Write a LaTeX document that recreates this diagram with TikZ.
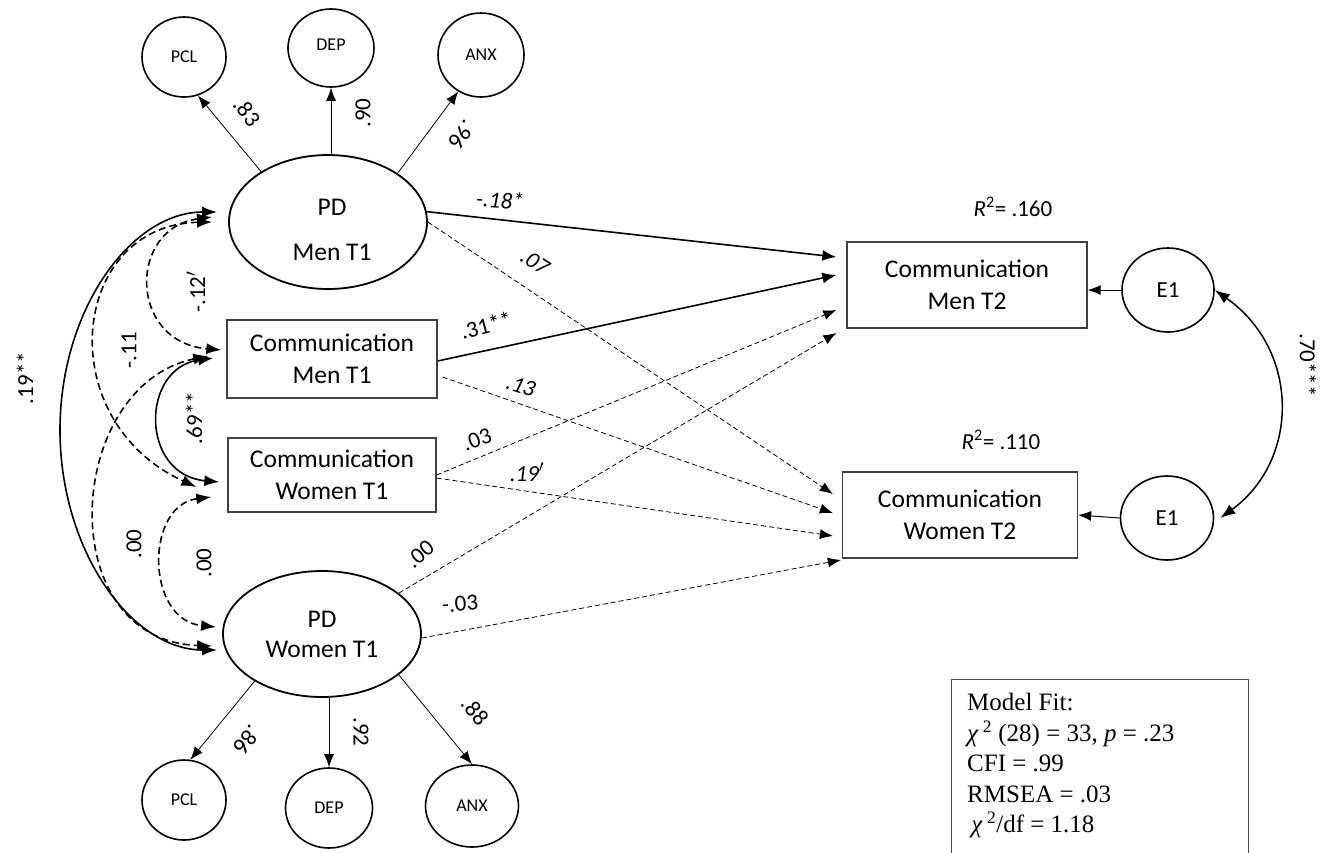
\documentclass[tikz,border=0pt]{standalone}
\usepackage{fontspec}
\setmainfont{Carlito}
\newfontfamily\timesfont{Liberation Serif}
\usetikzlibrary{arrows.meta,shapes.geometric}
\tikzset{
 latbig/.style={draw, ellipse, line width=1.8pt, inner sep=0pt, font=\fontsize{25.5}{30}\selectfont, align=center},
 ind/.style={draw, ellipse, line width=1.6pt, inner sep=0pt, font=\fontsize{18}{21}\selectfont},
 obs/.style={draw=black!75, rectangle, line width=1.3pt, inner sep=0pt, font=\fontsize{25.5}{32}\selectfont, align=center},
 lab/.style={font=\fontsize{23}{27}\selectfont, inner sep=1pt},
 ilab/.style={lab, font=\fontsize{23}{27}\selectfont\itshape},
 cov/.style={{Latex[length=15pt,width=11pt]}-{Latex[length=15pt,width=11pt]}, line width=1.6pt},
 covd/.style={cov, dash pattern=on 7pt off 4pt},
 pathsolid/.style={line width=1.6pt, -{Latex[length=14pt,width=11pt]}},
 pathdash/.style={line width=0.8pt, dash pattern=on 5pt off 3pt, -{Latex[length=13pt,width=10pt]}},
 load/.style={line width=0.8pt, -{Latex[length=13pt,width=10pt]}},
}
\begin{document}
\begin{tikzpicture}[x=1pt,y=-1pt]
\fill[white] (0,0) rectangle (1329,852);
\useasboundingbox (0,0) rectangle (1329,852);

% nodes
\node[ind, minimum width=84pt, minimum height=80pt] (pclt) at (184,57) {PCL};
\node[ind, minimum width=86pt, minimum height=78pt] (dept) at (331,48) {\raisebox{6pt}{DEP}};
\node[ind, minimum width=86pt, minimum height=84pt] (anxt) at (481,55) {ANX};
\node[latbig, minimum width=198pt, minimum height=134pt] (pdm) at (328,222) {};
\node[font=\fontsize{25.5}{30}\selectfont, align=center, inner sep=0pt] (pdmt) at (332,230) {PD\\[15pt]Men T1};
\node[obs, minimum width=210pt, minimum height=78pt] (cmt1) at (332,359) {Communication\\Men T1};
\node[obs, minimum width=208pt, minimum height=74pt] (cwt1) at (332,475) {Communication\\Women T1};
\node[latbig, minimum width=198pt, minimum height=126pt] (pdw) at (322,634) {PD\\Women T1};
\node[ind, minimum width=84pt, minimum height=80pt] (pclb) at (184,800) {PCL};
\node[ind, minimum width=87pt, minimum height=80pt] (depb) at (329,808) {DEP};
\node[ind, minimum width=93pt, minimum height=82pt] (anxb) at (472,806) {ANX};
\node[obs, minimum width=240pt, minimum height=86pt] (cm2) at (967,285) {Communication\\Men T2};
\node[obs, minimum width=235pt, minimum height=86pt] (cw2) at (960,515) {Communication\\Women T2};
\node[ind, font=\fontsize{23}{27}\selectfont, minimum width=92pt, minimum height=84pt] (e1a) at (1168,290) {E1};
\node[ind, font=\fontsize{23}{27}\selectfont, minimum width=93pt, minimum height=84pt] (e1b) at (1167,518) {E1};

\node[lab] (r2a) at (1013,207) {\textit{R}\textsuperscript{2}= .160};
\node[lab] (r2b) at (1001,440) {\textit{R}\textsuperscript{2}= .110};

% loadings
\draw[load] (pdm.143) -- (pclt.-70);
\draw[load] (dept.south |- pdm.north) -- (dept.south);
\draw[load] (pdm.35) -- (anxt.-122);
\draw[load] (pdw.-145) -- (pclb.81);
\draw[load] (depb.north |- pdw.south) -- (depb.north);
\draw[load] (pdw.-28) -- (anxb.north);
\node[lab, rotate=-52] (l83) at (247,112) {.83};
\node[lab, rotate=90] (l90) at (363,113) {.90};
\node[lab, rotate=-128] (l96) at (462,135) {.96};
\node[lab, rotate=-129] (l86) at (247,740) {.86};
\node[lab, rotate=-90] (l92) at (361,732) {.92};
\node[lab, rotate=-50] (l88) at (475,711) {.88};

% structural paths
\draw[pathsolid] (pdm.6) -- ([xshift=-10pt,yshift=28pt]cm2.west);
\draw[pathsolid] ([yshift=-2pt]cmt1.east) -- ([xshift=-10pt,yshift=10pt]cm2.west);
\draw[pathdash] (pdm.east) -- ([xshift=-9pt,yshift=21pt]cw2.west);
\draw[pathdash] ([xshift=5pt,yshift=-18pt]cmt1.east) -- ([xshift=-9pt,yshift=2pt]cw2.west);
\draw[pathdash] (cwt1.east) -- ([xshift=-10pt,yshift=-25pt]cm2.west);
\draw[pathdash] ([yshift=-3pt]cwt1.east) -- ([xshift=-9pt,yshift=-21pt]cw2.west);
\draw[pathdash] (pdw.28) -- ([xshift=-10pt,yshift=-48pt]cm2.west);
\draw[pathdash] ([yshift=-4pt]pdw.east) -- ([xshift=-1pt,yshift=-45pt]cw2.west);

\node[ilab, rotate=-4] (p1) at (500,200) {-.18*};
\node[ilab, rotate=-33] (p2) at (535,262) {.07};
\node[lab, rotate=15] (p3) at (486,325) {.31**};
\node[ilab, rotate=-18] (p4) at (521,386) {.13};
\node[lab, rotate=20] (p5) at (477,440) {.03};
\node[ilab] (p6) at (527,472) {.19$^{\prime}$};
\node[lab, rotate=40] (p7) at (420,554) {.00};
\node[lab, rotate=5] (p8) at (460,604) {-.03};

% residuals
\draw[load, line width=1pt] (e1a.west) -- (e1a.west -| cm2.east);
\draw[load, line width=1pt] (e1b.west) -- ([yshift=3pt]e1b.west -| cw2.east);
\draw[cov, line width=1.5pt] (e1a.east) .. controls (1300,350) and (1300,460) .. ([xshift=6pt]e1b.east);
\node[lab, rotate=-90] (c70) at (1308,365) {.70***};

% covariances (left)
\draw[covd] ([xshift=-16pt,yshift=5pt]pdm.west) .. controls (128,228) and (128,342) .. ([xshift=-5pt,yshift=9pt]cmt1.west);
\draw[covd] ([xshift=-16pt]pdm.west) .. controls (70,225) and (50,420) .. ([xshift=-31pt,yshift=-12pt]cwt1.west);
\draw[cov] ([xshift=-11pt,yshift=10pt]pdm.west) .. controls (131,212) and (60,310) .. (60,430) .. controls (60,550) and (131,650) .. ([xshift=-5pt,yshift=-16pt]pdw.west);
\draw[cov] ([xshift=-13pt,yshift=1pt]cmt1.west) .. controls (140,368) and (140,475) .. ([xshift=-8pt,yshift=-7pt]cwt1.west);
\draw[covd] ([xshift=-18pt,yshift=3pt]cmt1.west) .. controls (65,385) and (50,640) .. ([xshift=-10pt,yshift=-12pt]pdw.west);
\draw[covd] ([xshift=-16pt,yshift=-22pt]cwt1.west) .. controls (145,505) and (145,620) .. ([xshift=-6pt,yshift=7pt]pdw.west);

\node[lab, rotate=90] (c19) at (25,378) {.19**};
\node[lab, rotate=90] (c11) at (129,350) {-.11};
\node[lab, rotate=90] (c12) at (196,292) {-.12$^{\prime}$};
\node[lab, rotate=90] (c69) at (194,418) {.69**};
\node[lab, rotate=90] (c00a) at (134,544) {.00};
\node[lab, rotate=90] (c00b) at (204,563) {.00};

% model fit
\node[draw=black!70, line width=1.2pt, anchor=north west, minimum width=297pt, minimum height=190pt, inner sep=0pt] (fitbox) at (951,679) {};
\node[anchor=north west, inner sep=0pt, align=left, font=\timesfont\fontsize{25}{30.5}\selectfont] (fittext) at ([xshift=16pt,yshift=-14pt]fitbox.north west) {Model Fit:\\\textit{χ}\,\textsuperscript{2} (28) = 33, \textit{p} = .23\\CFI = .99\\RMSEA = .03\\\,\textit{χ}\,\textsuperscript{2}/df = 1.18};
\end{tikzpicture}
\end{document}
